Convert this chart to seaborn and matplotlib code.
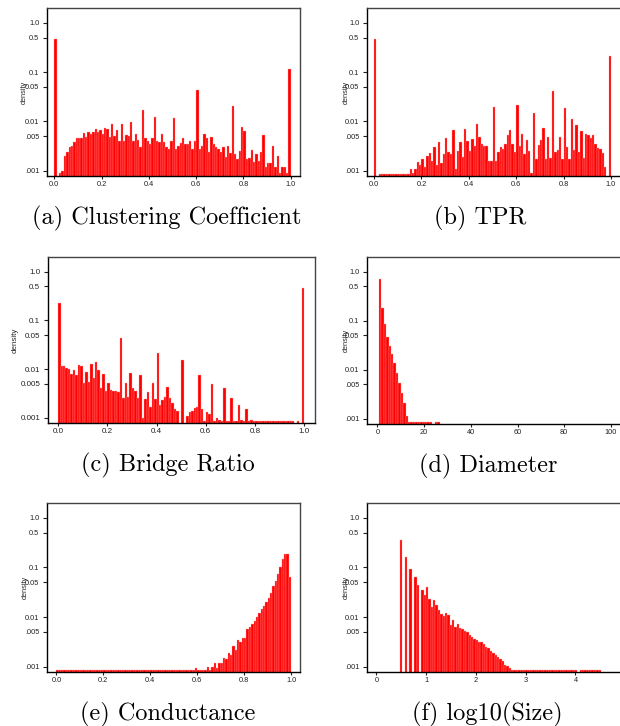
import numpy as np
import pandas as pd
import seaborn as sns
import matplotlib.pyplot as plt
from matplotlib.ticker import FixedLocator, FixedFormatter, NullLocator

# tiny bins that only just show above the bottom of the axis
F = 0.00086

# (a) Clustering Coefficient, 100 bins over [0, 1]
clustering_density = [
    0.47, 0, 0.00088, 0.0010, 0.0020, 0.0024, 0.0030, 0.0032, 0.0038, 0.0046,
    0.0046, 0.0046, 0.0058, 0.0048, 0.0060, 0.0055, 0.0062, 0.0070, 0.0062, 0.0068,
    0.0055, 0.0072, 0.0070, 0.0048, 0.0090, 0.0050, 0.0068, 0.0040, 0.0088, 0.0040,
    0.0052, 0.0050, 0.0095, 0.0040, 0.0055, 0.0042, 0.0030, 0.0170, 0.0045, 0.0040,
    0.0035, 0.0045, 0.0120, 0.0040, 0.0038, 0.0055, 0.0038, 0.0030, 0.0028, 0.0040,
    0.0115, 0.0028, 0.0032, 0.0036, 0.0046, 0.0035, 0.0034, 0.0040, 0.0028, 0.0040,
    0.0440, 0.0027, 0.0032, 0.0055, 0.0045, 0.0024, 0.0048, 0.0035, 0.0030, 0.0028,
    0.0024, 0.0030, 0.0019, 0.0031, 0.0023, 0.0210, 0.0022, 0.0017, 0.0025, 0.0078,
    0.0065, 0.0017, 0.0018, 0.0026, 0.0015, 0.0022, 0.0016, 0.0024, 0.0052, 0.0012,
    0.0014, 0.0014, 0.0032, 0.0012, 0.0020, 0.00088, 0.0012, 0.0012, 0.00088, 0.116,
]

# (b) TPR, 100 bins over [0, 1]
tpr_density = [
    0.47, 0, F, F, F, F, F, F, F, F,
    F, F, F, F, F, 0.0011, 0.0009, 0.0011, 0.0015, 0.0013,
    0.0017, 0.0012, 0.0020, 0.0023, 0.0016, 0.0030, 0.0013, 0.0038, 0.0014, 0.0022,
    0.0045, 0.0024, 0.0022, 0.0068, 0.0011, 0.0025, 0.0038, 0.0019, 0.0070, 0.0040,
    0.0025, 0.0043, 0.0032, 0.0089, 0.0049, 0.0034, 0.0031, 0.0031, 0.0016, 0.0016,
    0.0200, 0.0016, 0.0024, 0.0030, 0.0028, 0.0034, 0.0052, 0.0068, 0.0034, 0.0024,
    0.0220, 0.0032, 0.0055, 0.0022, 0.0042, 0.0025, 0.0009, 0.0147, 0.0017, 0.0033,
    0.0042, 0.0075, 0.0017, 0.0048, 0.0018, 0.0420, 0.0024, 0.0026, 0.0048, 0.0017,
    0.0185, 0.0030, 0.0017, 0.0110, 0.0026, 0.0085, 0.0024, 0.0065, 0.0018, 0.0055,
    0.0052, 0.0045, 0.0052, 0.0035, 0.0029, 0.0027, 0.0023, 0.0012, 0, 0.21,
]

# (c) Bridge Ratio, 100 bins over [0, 1]
bridge_density = [
    0.224, 0.0113, 0.0113, 0.0105, 0.0099, 0.0080, 0.0095, 0.0074, 0.0122, 0.0113,
    0.0051, 0.0085, 0.0053, 0.0126, 0.0066, 0.0142, 0.0095, 0.0040, 0.0080, 0.0036,
    0.0051, 0.0037, 0.0036, 0.0035, 0.0034, 0.0430, 0.0025, 0.0051, 0.0027, 0.0083,
    0.0040, 0.0036, 0.0025, 0.0076, 0.00099, 0.0024, 0.0034, 0.0017, 0.0051, 0.0024,
    0.0218, 0.0018, 0.0023, 0.0027, 0.0042, 0.0025, 0.0020, 0.0015, 0.0014, 0,
    0.0155, 0, 0.0011, 0.0013, 0.0014, 0.0016, 0.0017, 0.0074, 0.0015, F,
    0.0013, 0.0012, 0.0049, F, 0.0010, 0.00090, F, 0.0040, F, F,
    0.0025, F, F, 0.0018, 0.00090, F, 0.0015, F, 0.00090, F,
    F, F, F, F, F, F, F, F, F, F,
    F, F, F, F, F, F, 0, F, 0, 0.47,
]

# (d) Diameter, bins of width 1.04 starting at 0.6
diameter_density = [
    0.70, 0.179, 0.084, 0.047, 0.030, 0.021, 0.0135, 0.0087, 0.0053, 0.0034,
    0.0021, 0.00115, F, F, F, F, F, F, F, F,
    F, F, 0, F, F,
]

# (e) Conductance, 100 bins over [0, 1]
conductance_density = [F] * 59 + [
    0.00095, F, F, F, F, 0.00098, F, 0.0010, 0.0012, 0.00095,
    0.0012, 0.0012, 0.0015, 0.0014, 0.0019, 0.0017, 0.0026, 0.0022, 0.0034, 0.0032,
    0.0038, 0.0038, 0.0057, 0.0064, 0.0073, 0.0085, 0.0100, 0.0120, 0.0145, 0.0170,
    0.020, 0.024, 0.031, 0.042, 0.054, 0.075, 0.100, 0.146, 0.190, 0.190,
    0.064,
]

# (f) log10(Size), bins of width 0.0475 starting at log10(3)
size_density = [
    0.36, 0, 0.16, 0, 0.095, 0, 0.063, 0.045, 0, 0.035,
    0.028, 0.040, 0.023, 0.0157, 0.022, 0.0178, 0.0137, 0.0117, 0.0103, 0.012,
    0.0108, 0.0068, 0.0088, 0.0064, 0.0074, 0.0060, 0.0057, 0.0052, 0.0051, 0.0044,
    0.0040, 0.0036, 0.0035, 0.0032, 0.0031, 0.0029, 0.0025, 0.0024, 0.0021, 0.0019,
    0.0017, 0.00155, 0.0014, 0.0013, 0.0011, 0.00103, 0.00093,
] + [F] * 28 + [0] + [F] * 9

yticks = [0.001, 0.005, 0.01, 0.05, 0.1, 0.5, 1.0]
ylabels_short = ['.001', '.005', '0.01', '0.05', '0.1', '0.5', '1.0']
ylabels_long = ['0.001', '0.005', '0.01', '0.05', '0.1', '0.5', '1.0']
unit_ticks = [0.0, 0.2, 0.4, 0.6, 0.8, 1.0]
unit_labels = ['0.0', '0.2', '0.4', '0.6', '0.8', '1.0']

W, H = 620, 726

# panel: (density, bin start, bin width, box px l,r,top,bottom, xlim, xticks, xlabels,
#         ylabels, ylabel offset px, caption, caption centre x, label size)
panels = [
    (clustering_density, 0.0, 0.01, (47, 300, 8, 176), (-0.031, 1.039),
     unit_ticks, unit_labels, ylabels_short, 19, '(a) Clustering Coefficient', 167, 5.3),
    (tpr_density, 0.0, 0.01, (367, 621, 8, 176), (-0.0295, 1.042),
     unit_ticks, unit_labels, ylabels_short, 17, '(b) TPR', 480, 5.3),
    (bridge_density, 0.0, 0.01, (48, 315, 257, 423), (-0.041, 1.0435),
     unit_ticks, unit_labels, ylabels_long, 29, '(c) Bridge Ratio', 168, 5.8),
    (diameter_density, 0.6, 1.04, (367, 621, 257, 424), (-4.46, 104.3),
     [0, 20, 40, 60, 80, 100], ['0', '20', '40', '60', '80', '100'],
     ylabels_short, 17, '(d) Diameter', 488, 5.3),
    (conductance_density, 0.0, 0.01, (47, 300, 503, 672), (-0.040, 1.038),
     unit_ticks, unit_labels, ylabels_short, 18, '(e) Conductance', 168, 5.3),
    (size_density, 0.473, 0.0475, (367, 621, 503, 672), (-0.19, 4.915),
     [0, 1, 2, 3, 4], ['0', '1', '2', '3', '4'],
     ylabels_short, 17, '(f) log10(Size)', 487, 5.3),
]

sns.set_theme(style='ticks')
plt.rcParams['font.family'] = ['Liberation Sans', 'DejaVu Sans']

fig = plt.figure(figsize=(W / 100, H / 100), dpi=100)

for (dens, start, width, box, xlim, xt, xl, yl, yoff, caption, cx, lsize) in panels:
    l, r, t, b = box
    ax = fig.add_axes([l / W, 1 - b / H, (r - l) / W, (b - t) / H])
    n = len(dens)
    edges = start + width * np.arange(n + 1)
    df = pd.DataFrame({'x': (edges[:-1] + edges[1:]) / 2, 'density': dens})
    sns.histplot(data=df, x='x', weights='density', bins=edges.tolist(), ax=ax,
                 color='#ff0000', edgecolor='#ffa6a6', linewidth=0.25, alpha=1)
    ax.set_yscale('log')
    ax.set_ylim(0.00078, 2.0)
    ax.set_xlim(*xlim)
    ax.yaxis.set_major_locator(FixedLocator(yticks))
    ax.yaxis.set_major_formatter(FixedFormatter(yl))
    ax.yaxis.set_minor_locator(NullLocator())
    ax.set_xticks(xt)
    ax.set_xticklabels(xl)
    ax.set_xlabel('')
    # the label sits over the tick labels, as in the original
    ax.set_ylabel('density', fontsize=lsize)
    ax.yaxis.set_label_coords(-yoff / (r - l), 0.5)
    ax.tick_params(axis='y', length=3, width=0.8, pad=2.5, labelsize=lsize, colors='#222222')
    ax.tick_params(axis='x', length=2, width=0.8, pad=1.5, labelsize=lsize, colors='#222222')
    for side in ['left', 'bottom']:
        ax.spines[side].set_color('black')
        ax.spines[side].set_linewidth(1.0)
    for side in ['top', 'right']:
        ax.spines[side].set_color('#444444')
        ax.spines[side].set_linewidth(1.0)
    fig.text(cx / W, 1 - (b + 48.5) / H, caption, ha='center', va='baseline',
             family='cmr10', fontsize=17.5, color='black')

fig.savefig('out.png', dpi=100)
